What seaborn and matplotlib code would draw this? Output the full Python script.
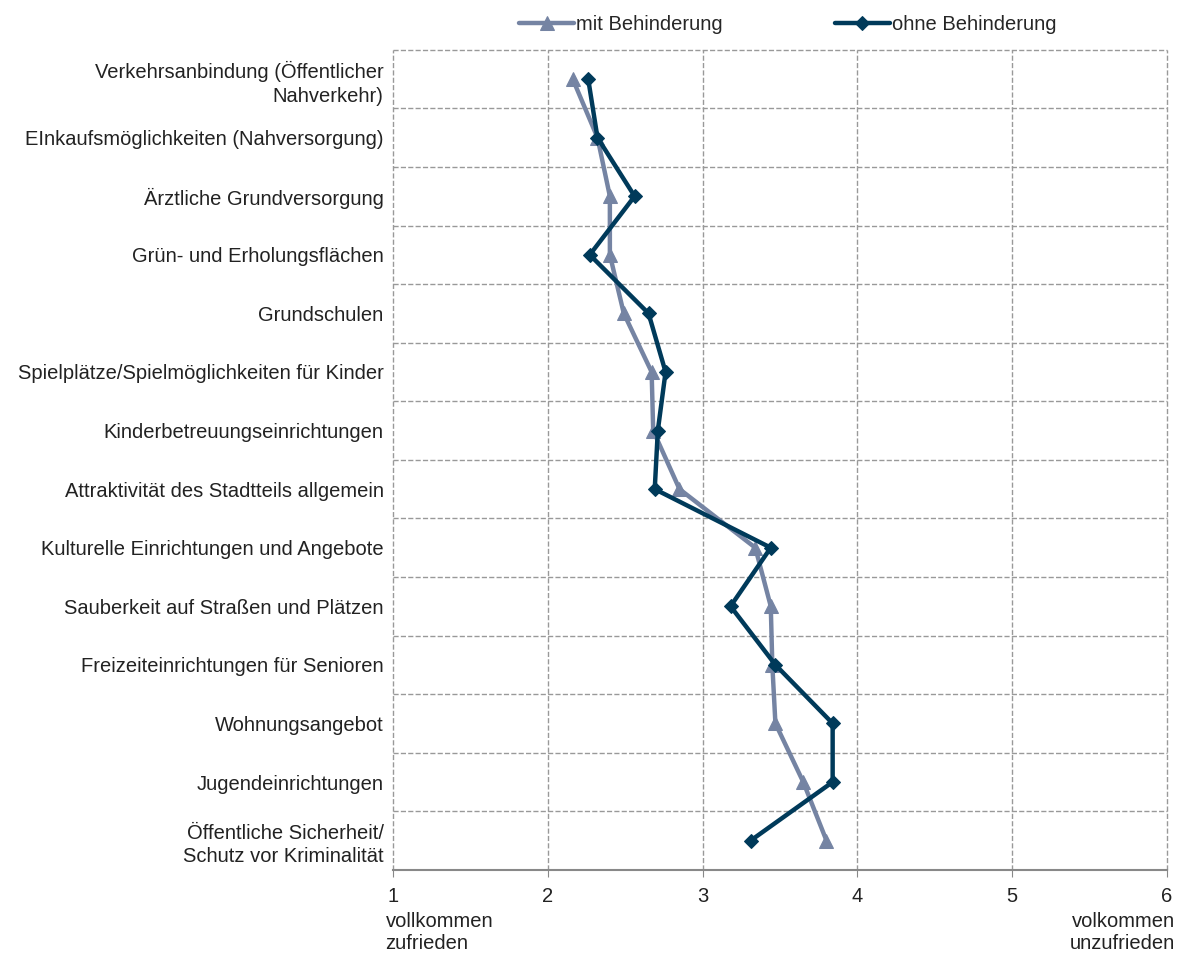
import numpy as np
import pandas as pd
import matplotlib
matplotlib.use("Agg")
import matplotlib.pyplot as plt
import seaborn as sns

# Kategorien (von oben nach unten)
kategorien = [
    "Verkehrsanbindung (Öffentlicher\nNahverkehr)",
    "EInkaufsmöglichkeiten (Nahversorgung)",
    "Ärztliche Grundversorgung",
    "Grün- und Erholungsflächen",
    "Grundschulen",
    "Spielplätze/Spielmöglichkeiten für Kinder",
    "Kinderbetreuungseinrichtungen",
    "Attraktivität des Stadtteils allgemein",
    "Kulturelle Einrichtungen und Angebote",
    "Sauberkeit auf Straßen und Plätzen",
    "Freizeiteinrichtungen für Senioren",
    "Wohnungsangebot",
    "Jugendeinrichtungen",
    "Öffentliche Sicherheit/\nSchutz vor Kriminalität",
]

mit_behinderung = [2.16, 2.32, 2.40, 2.40, 2.49, 2.67, 2.68, 2.85,
                   3.34, 3.44, 3.45, 3.47, 3.65, 3.80]
ohne_behinderung = [2.26, 2.32, 2.56, 2.27, 2.65, 2.76, 2.71, 2.69,
                    3.44, 3.18, 3.47, 3.84, 3.84, 3.31]

serien = ["mit Behinderung", "ohne Behinderung"]
x_ticks = [1, 2, 3, 4, 5, 6]

farben = {"mit Behinderung": "#7584a3", "ohne Behinderung": "#003a5a"}
marker = {"mit Behinderung": "^", "ohne Behinderung": "D"}

df = pd.DataFrame({
    "Kategorie": kategorien * 2,
    "Wert": mit_behinderung + ohne_behinderung,
    "Gruppe": [serien[0]] * len(kategorien) + [serien[1]] * len(kategorien),
})
df["pos"] = df.groupby("Gruppe").cumcount()

sns.set_style("white")
plt.rcParams["font.family"] = ["Liberation Sans", "DejaVu Sans"]
fs = 14.5
txt = "#222222"

fig = plt.figure(figsize=(11.81, 9.58), dpi=100)
ax = fig.add_axes([0.333, 0.092, 0.655, 0.856])

for gruppe in serien:
    sub = df[df["Gruppe"] == gruppe]
    sns.lineplot(
        data=sub, x="Wert", y="pos", sort=False, orient="y", ax=ax,
        color=farben[gruppe], marker=marker[gruppe],
        markersize=9.5 if gruppe == serien[0] else 7.5,
        markeredgecolor=farben[gruppe], linewidth=3.2, label=gruppe,
    )

n = len(kategorien)
ax.set_xlim(1, 6)
ax.set_ylim(n - 0.5, -0.5)
ax.set_xticks(x_ticks)
ax.set_xticklabels([str(t) for t in x_ticks], fontsize=fs, color=txt)
ax.set_yticks(np.arange(n))
ax.set_yticklabels(kategorien, fontsize=fs, color=txt,
                   ha="right", multialignment="right", linespacing=1.3)
ax.set_yticks(np.arange(n) - 0.5, minor=True)
ax.tick_params(axis="y", which="both", length=0, pad=7)
ax.tick_params(axis="x", length=5, color="#888888", direction="out", pad=7,
               bottom=True)
ax.set_xlabel("")
ax.set_ylabel("")

ax.grid(axis="x", which="major", linestyle="--", color="#999999", linewidth=1)
ax.grid(axis="y", which="minor", linestyle="--", color="#999999", linewidth=1)
for gl in ax.get_xgridlines():
    gl.set_clip_on(False)
for t in ax.yaxis.get_minor_ticks():
    t.gridline.set_clip_on(False)
ax.set_axisbelow(True)
for s in ["top", "right", "left"]:
    ax.spines[s].set_visible(False)
ax.spines["bottom"].set_color("#888888")
ax.spines["bottom"].set_linewidth(1.5)

ax.text(-0.01, -0.051, "vollkommen\nzufrieden", transform=ax.transAxes,
        ha="left", va="top", fontsize=fs, color=txt, linespacing=1.25)
ax.text(1.01, -0.051, "volkommen\nunzufrieden", transform=ax.transAxes,
        ha="right", va="top", fontsize=fs, color=txt, linespacing=1.25)

ax.get_legend().remove()
handles, labels = ax.get_legend_handles_labels()
fig.legend(handles, labels, loc="upper center", bbox_to_anchor=(0.667, 1.003),
           ncol=2, frameon=False, fontsize=fs, columnspacing=5.6,
           handlelength=2.7, handletextpad=0.1)

fig.savefig("out.png", dpi=100)
